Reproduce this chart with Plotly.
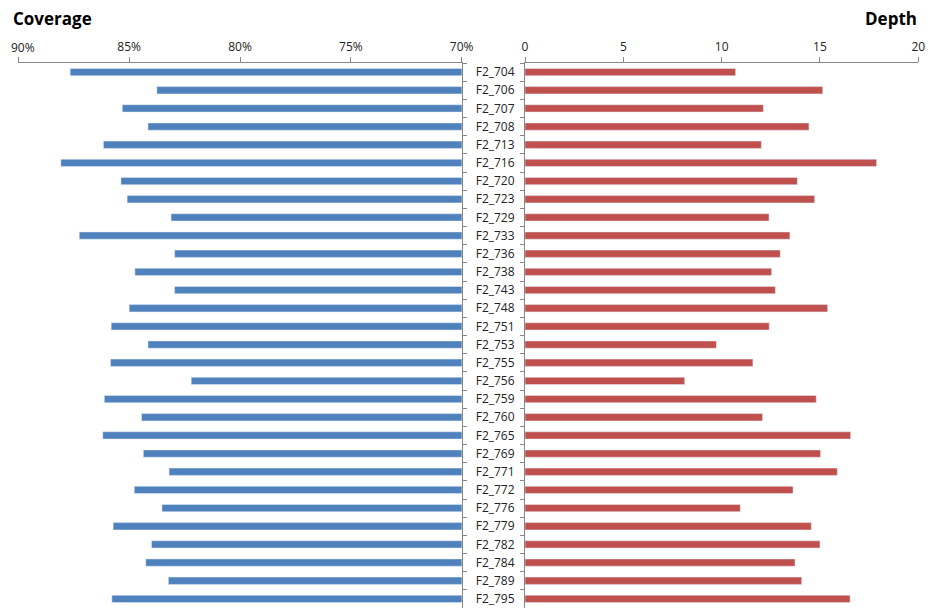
import plotly.graph_objects as go

samples = ["F2_704", "F2_706", "F2_707", "F2_708", "F2_713", "F2_716", "F2_720", "F2_723",
           "F2_729", "F2_733", "F2_736", "F2_738", "F2_743", "F2_748", "F2_751", "F2_753",
           "F2_755", "F2_756", "F2_759", "F2_760", "F2_765", "F2_769", "F2_771", "F2_772",
           "F2_776", "F2_779", "F2_782", "F2_784", "F2_789", "F2_795"]

coverage = [87.66, 83.75, 85.31, 84.15, 86.16, 88.08, 85.37, 85.09, 83.11, 87.25,
            82.95, 84.74, 82.95, 85.00, 85.81, 84.15, 85.84, 82.20, 86.12, 84.44,
            86.19, 84.36, 83.20, 84.77, 83.52, 85.72, 83.99, 84.25, 83.23, 85.78]

depth = [10.71, 15.14, 12.12, 14.44, 12.02, 17.88, 13.85, 14.73, 12.41, 13.47,
         12.98, 12.54, 12.73, 15.39, 12.42, 9.73, 11.59, 8.12, 14.81, 12.08,
         16.56, 15.03, 15.88, 13.63, 10.95, 14.56, 15.00, 13.73, 14.07, 16.53]

cov_ticks = [90, 85, 80, 75, 70]
cov_labels = [f"{v}%" for v in cov_ticks]
depth_ticks = [0, 5, 10, 15, 20]

# page body has an 8px margin; figure placed at (8, 8)
OFF = 8
W, H = 933 - OFF, 612 - OFF
TOP, BOT = 63 - OFF, 608 - OFF
FONT = "Open Sans"
AX = "#868686"
TXT = "#222222"

def px(x):
    return (x - OFF) / W

def py(y):
    return ((BOT) - (y - OFF)) / (BOT - TOP)

fig = go.Figure()
fig.add_trace(go.Bar(y=samples, x=coverage, orientation="h", marker_color="#4F81BD",
                     width=0.4, xaxis="x", yaxis="y", showlegend=False))
fig.add_trace(go.Bar(y=samples, x=depth, orientation="h", marker_color="#C0504D",
                     width=0.4, xaxis="x2", yaxis="y2", showlegend=False))

xl = [px(18.3), px(461.7)]
xr = [px(525.0), px(918.3)]

# the outermost left tick label would be clipped by the page edge: draw it as text
edge_label = cov_labels[0]
shown_labels = [""] + cov_labels[1:]

fig.update_layout(
    width=W, height=H,
    margin=dict(l=0, r=0, t=TOP, b=H - BOT, autoexpand=False),
    paper_bgcolor="white", plot_bgcolor="white",
    font=dict(family=FONT, size=12, color=TXT),
    xaxis=dict(domain=xl, range=[90, 70], side="top", anchor="y", automargin=False,
               tickvals=cov_ticks, ticktext=shown_labels,
               ticklabeloverflow="allow",
               showgrid=False, zeroline=False, showline=True, linecolor=AX, linewidth=1,
               ticks="outside", ticklen=5, tickcolor=AX, ticklabelstandoff=1),
    xaxis2=dict(domain=xr, range=[0, 20], side="top", anchor="y2", automargin=False,
                tickvals=depth_ticks, ticklabeloverflow="allow",
                showgrid=False, zeroline=False, showline=True, linecolor=AX, linewidth=1,
                ticks="outside", ticklen=5, tickcolor=AX, ticklabelstandoff=1),
    yaxis=dict(domain=[0, 1], type="category", categoryorder="array", categoryarray=samples,
               autorange="reversed", anchor="x", side="right", showticklabels=False,
               automargin=False,
               showgrid=False, zeroline=False, showline=True, linecolor=AX, linewidth=1,
               ticks="outside", ticklen=4, tickcolor=AX, tickson="boundaries"),
    yaxis2=dict(domain=[0, 1], type="category", categoryorder="array", categoryarray=samples,
                autorange="reversed", anchor="x2", side="left", automargin=False,
                showgrid=False, zeroline=False, showline=True, linecolor=AX, linewidth=1,
                ticks="outside", ticklen=4, tickcolor=AX, tickson="boundaries",
                ticklabelstandoff=7, tickfont=dict(size=12, color=TXT)),
    annotations=[
        dict(text="<b>Coverage</b>", x=px(11), y=py(18), xref="paper", yref="paper",
             xanchor="left", yanchor="middle", showarrow=False,
             font=dict(family=FONT, size=17, color="black")),
        dict(text="<b>Depth</b>", x=px(919), y=py(18), xref="paper", yref="paper",
             xanchor="right", yanchor="middle", showarrow=False,
             font=dict(family=FONT, size=17, color="black")),
        dict(text=edge_label, x=px(9), y=py(47), xref="paper", yref="paper",
             xanchor="left", yanchor="middle", showarrow=False,
             font=dict(family=FONT, size=12, color=TXT)),
    ],
)

fig.write_html("out.html")
